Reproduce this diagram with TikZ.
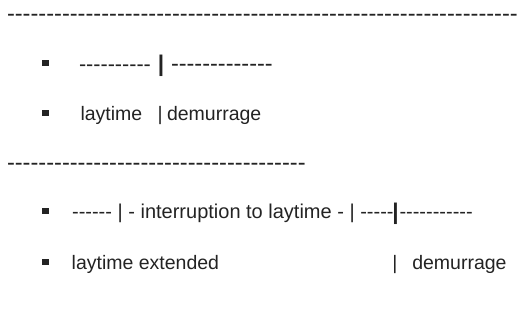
\documentclass[tikz,border=0pt]{standalone}
\usepackage{fontspec}
\setmainfont{Liberation Sans}[Ligatures=TeXOff]
\newcommand\mysize[1]{\fontsize{#1}{#1}\selectfont}
\definecolor{ink}{RGB}{35,35,35}
\begin{document}
\begin{tikzpicture}[x=1pt,y=-1pt,
  txt/.style={inner sep=0pt, outer sep=0pt, anchor=base west, text=ink, font=\mysize{19.5}},
  dashtxt/.style={inner sep=0pt, outer sep=0pt, anchor=base west, text=ink},
  barb/.style={inner sep=0pt, outer sep=0pt, anchor=base, text=ink, font=\bfseries\mysize{22.7}},
  bullet/.style={fill=ink, draw=none, inner sep=0pt, minimum size=6.5pt, rectangle}]
\useasboundingbox (0,0) rectangle (519,321);
% line 1
\node[dashtxt, font=\mysize{23.6}] (top) at (7,21.4) {-----------------------------------------------------------------};
% line 2
\node[bullet] (b2) at (45.5,63) {};
\node[dashtxt, font=\mysize{21.6}] (l2a) at (79,71) {----------};
\node[barb] (l2bar) at (161,71.5) {|};
\node[dashtxt, font=\mysize{23.5}] (l2b) at (171,71) {-------------};
% line 3
\node[bullet] (b3) at (45.5,113) {};
\node[txt] (l3a) at (80.5,120) {laytime};
\node[txt] (l3bar) at (157.5,120) {|};
\node[txt] (l3b) at (167,120) {demurrage};
% line 4
\node[dashtxt, font=\mysize{23.6}] (mid) at (7,170.4) {--------------------------------------};
% line 5
\node[bullet] (b5) at (45.5,211) {};
\node[txt, font=\mysize{20}] (l5a) at (72.1,218.5) {------ | - interruption to laytime - | -----};
\node[barb] (l5bar) at (395.5,219.2) {|};
\node[txt, font=\mysize{20}] (l5b) at (399.5,218.5) {-----------};
% line 6
\node[bullet] (b6) at (45.5,262) {};
\node[txt] (l6a) at (71.7,269) {laytime extended};
\node[txt, anchor=base] (l6bar) at (395,269) {|};
\node[txt] (l6b) at (412.3,269) {demurrage};
\end{tikzpicture}
\end{document}
